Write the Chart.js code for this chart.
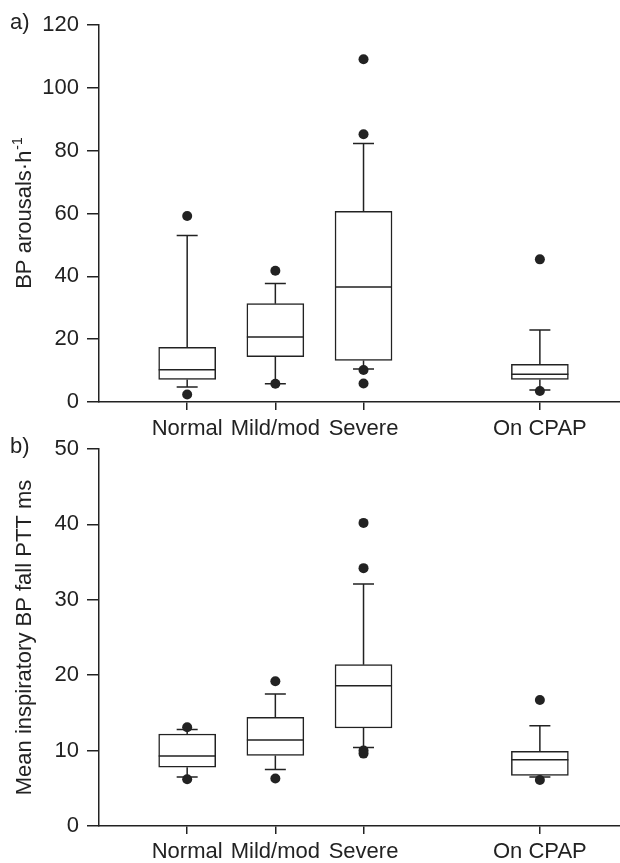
<!DOCTYPE html>
<html>
<head>
<meta charset="utf-8">
<title>BP arousals and inspiratory BP fall by OSA severity</title>
<script src="https://cdn.jsdelivr.net/npm/chart.js@4.4.0/dist/chart.umd.min.js"></script>
<style>
  html, body { margin: 0; padding: 0; background: #fff; }
  body { position: relative; width: 620px; height: 863px; overflow: hidden; }
  canvas { display: block; position: absolute; left: 0; }
  #chartA { top: 0; }
  #chartB { top: 419px; }
</style>
</head>
<body>
<canvas id="chartA" width="626" height="440" style="width:626px;height:440px"></canvas>
<canvas id="chartB" width="626" height="444" style="width:626px;height:444px"></canvas>
<script>
'use strict';

// ── data ─────────────────────────────────────────────
const categories = ['Normal', 'Mild/mod', 'Severe', 'On CPAP'];
const slots = [1, 2, 3, 5];          // one empty slot before On CPAP

// a) BP arousals·h-1
const aWhiskerLow  = [4.8, 5.8, 10.5, 3.8];
const aQ1          = [7.2, 14.4, 13.2, 7.2];
const aMedian      = [10.3, 20.7, 36.6, 8.8];
const aQ3          = [17.4, 31.3, 60.7, 12.0];
const aWhiskerHigh = [53.0, 37.7, 82.3, 22.9];
const aOutliers    = [[59.2, 2.4], [41.8, 5.8], [109.1, 85.2, 10.2, 5.9], [45.4, 3.5]];

// b) Mean inspiratory BP fall PTT ms
const bWhiskerLow  = [6.5, 7.5, 10.4, 6.5];
const bQ1          = [7.8, 9.35, 13.0, 6.7];
const bMedian      = [9.3, 11.4, 18.6, 8.8];
const bQ3          = [12.2, 14.4, 21.4, 9.9];
const bWhiskerHigh = [12.8, 17.5, 32.1, 13.3];
const bOutliers    = [[13.1, 6.2], [19.2, 6.3], [40.2, 34.2, 10.0, 9.6], [16.7, 6.1]];

const INK = '#222';
const FONT = "'Liberation Sans', Arial, sans-serif";

Chart.defaults.font.family = FONT;
Chart.defaults.color = INK;

// whiskers, medians, axis title and panel letter
const boxDecor = {
  id: 'boxDecor',
  afterDatasetDraw(chart, args, opts) {
    if (args.meta.type !== 'bar') return;
    const { ctx, scales: { x, y } } = chart;
    ctx.save();
    ctx.strokeStyle = INK;
    ctx.lineWidth = 1.5;
    args.meta.data.forEach((bar, i) => {
      const cx = x.getPixelForValue(slots[i]);
      const half = bar.width / 2;
      const cap = 10.5;
      const yLow = y.getPixelForValue(opts.low[i]);
      const yQ1 = y.getPixelForValue(opts.q1[i]);
      const yMed = y.getPixelForValue(opts.median[i]);
      const yQ3 = y.getPixelForValue(opts.q3[i]);
      const yHigh = y.getPixelForValue(opts.high[i]);
      ctx.beginPath();
      ctx.moveTo(cx, yQ3); ctx.lineTo(cx, yHigh);
      ctx.moveTo(cx - cap, yHigh); ctx.lineTo(cx + cap, yHigh);
      ctx.moveTo(cx, yQ1); ctx.lineTo(cx, yLow);
      ctx.moveTo(cx - cap, yLow); ctx.lineTo(cx + cap, yLow);
      ctx.moveTo(cx - half, yMed); ctx.lineTo(cx + half, yMed);
      ctx.stroke();
    });
    ctx.restore();
  },
  afterDraw(chart, args, opts) {
    const { ctx, chartArea } = chart;
    ctx.save();
    ctx.fillStyle = INK;
    // panel letter
    ctx.font = '22px ' + FONT;
    ctx.textAlign = 'left';
    ctx.textBaseline = 'middle';
    ctx.fillText(opts.letter, 10, chartArea.top - 2);
    // rotated y title with optional superscript
    ctx.translate(25, (chartArea.top + chartArea.bottom) / 2);
    ctx.rotate(-Math.PI / 2);
    ctx.font = '22px ' + FONT;
    const w1 = ctx.measureText(opts.title).width;
    ctx.font = '14px ' + FONT;
    const w2 = opts.sup ? ctx.measureText(opts.sup).width : 0;
    const start = -(w1 + w2) / 2;
    ctx.textAlign = 'left';
    ctx.textBaseline = 'middle';
    ctx.font = '22px ' + FONT;
    ctx.fillText(opts.title, start, 0);
    if (opts.sup) {
      ctx.font = '14px ' + FONT;
      ctx.fillText(opts.sup, start + w1 + 1, -7);
    }
    ctx.restore();
  }
};

function buildChart(id, cfg) {
  const outlierPoints = [];
  cfg.outliers.forEach((list, i) => {
    list.forEach(v => outlierPoints.push({ x: slots[i], y: v }));
  });

  return new Chart(document.getElementById(id), {
    type: 'bar',
    data: {
      datasets: [
        {
          type: 'scatter',
          data: outlierPoints,
          pointRadius: 5,
          pointHoverRadius: 5,
          backgroundColor: INK,
          borderWidth: 0
        },
        {
          type: 'bar',
          data: slots.map((s, i) => ({ x: s, y: [cfg.q1[i], cfg.q3[i]] })),
          barThickness: 57,
          backgroundColor: '#fff',
          borderColor: INK,
          borderWidth: 1.5,
          borderSkipped: false
        }
      ]
    },
    options: {
      responsive: false,
      animation: false,
      events: [],
      layout: { padding: { top: cfg.padTop, right: 0, bottom: 0, left: 0 } },
      plugins: {
        legend: { display: false },
        tooltip: { enabled: false },
        boxDecor: {
          low: cfg.low, q1: cfg.q1, median: cfg.median, q3: cfg.q3, high: cfg.high,
          letter: cfg.letter, title: cfg.title, sup: cfg.sup
        }
      },
      scales: {
        x: {
          type: 'linear',
          min: 0,
          max: 5.92,
          offset: false,
          afterBuildTicks: scale => { scale.ticks = slots.map(v => ({ value: v })); },
          afterFit: scale => { scale.height = cfg.xHeight; },
          ticks: {
            autoSkip: false,
            maxRotation: 0,
            padding: cfg.xPad,
            font: { size: 22 },
            color: INK,
            callback: v => categories[slots.indexOf(v)] || ''
          },
          grid: { offset: false, drawOnChartArea: false, drawTicks: true, tickLength: 8, color: INK, lineWidth: 1.5 },
          border: { display: true, color: INK, width: 1.5 }
        },
        y: {
          min: 0,
          max: cfg.yMax,
          afterFit: scale => { scale.width = 99; },
          ticks: { stepSize: cfg.yStep, padding: 8, font: { size: 22 }, color: INK },
          grid: { drawOnChartArea: false, drawTicks: true, tickLength: 12, color: INK, lineWidth: 1.5 },
          border: { display: true, color: INK, width: 1.5 }
        }
      }
    },
    plugins: [boxDecor]
  });
}

buildChart('chartA', {
  low: aWhiskerLow, q1: aQ1, median: aMedian, q3: aQ3, high: aWhiskerHigh, outliers: aOutliers,
  yMax: 120, yStep: 20, padTop: 25, xHeight: 38, xPad: 6,
  letter: 'a)', title: 'BP arousals·h', sup: '-1'
});

buildChart('chartB', {
  low: bWhiskerLow, q1: bQ1, median: bMedian, q3: bQ3, high: bWhiskerHigh, outliers: bOutliers,
  yMax: 50, yStep: 10, padTop: 30, xHeight: 37, xPad: 5,
  letter: 'b)', title: 'Mean inspiratory BP fall PTT ms', sup: ''
});
</script>
</body>
</html>
